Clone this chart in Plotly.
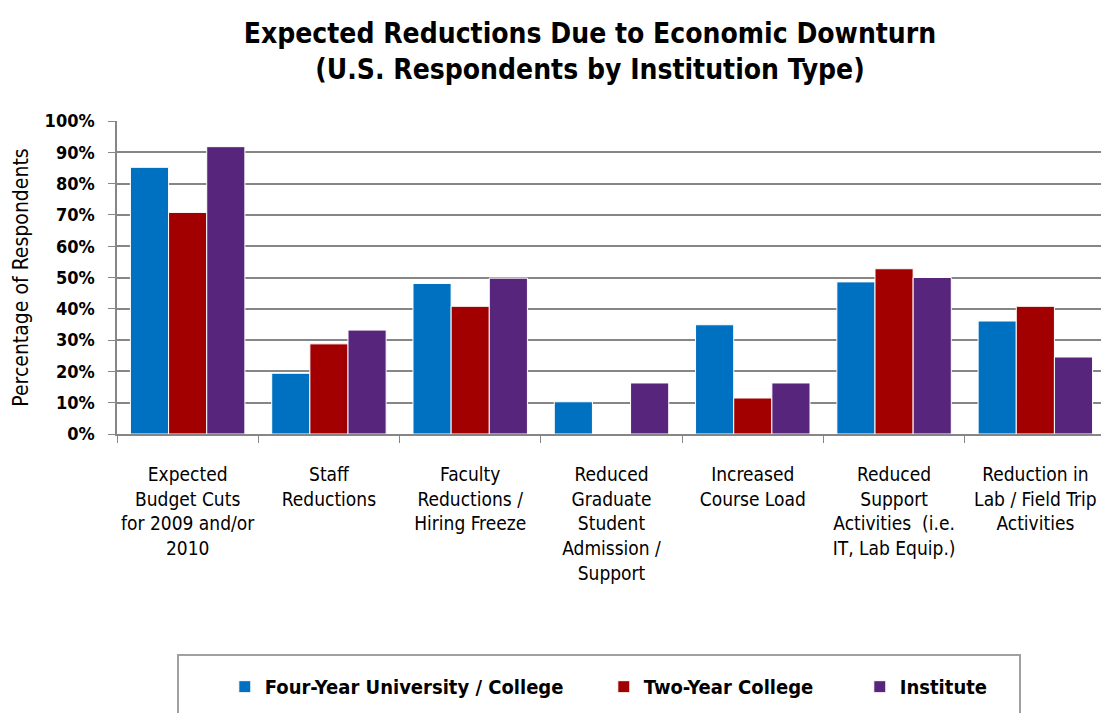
"""Reducciones esperadas por tipo de institución."""

import plotly.graph_objects as go

FUENTE = 'DejaVu Sans Condensed, Liberation Sans Narrow, Arial Narrow, sans-serif'

categorias = [
    'Expected<br>Budget Cuts<br>for 2009 and/or<br>2010',
    'Staff<br>Reductions',
    'Faculty<br>Reductions /<br>Hiring Freeze',
    'Reduced<br>Graduate<br>Student<br>Admission /<br>Support',
    'Increased<br>Course Load',
    'Reduced<br>Support<br>Activities  (i.e.<br>IT, Lab Equip.)',
    'Reduction in<br>Lab / Field Trip<br>Activities',
]

cuatro_anios = [0.852, 0.194, 0.481, 0.103, 0.349, 0.486, 0.361]
dos_anios = [0.708, 0.288, 0.408, 0.0, 0.115, 0.528, 0.408]
instituto = [0.918, 0.332, 0.498, 0.163, 0.163, 0.500, 0.246]

series = [
    ('Four-Year University / College', cuatro_anios, '#0070C0', 334),
    ('Two-Year College', dos_anios, '#A20000', 211),
    ('Institute', instituto, '#58257C', None),
]

fig = go.Figure()
for nombre, valores, color, ancho_leyenda in series:
    fig.add_trace(go.Bar(
        x=categorias,
        y=valores,
        name=nombre,
        marker=dict(color=color, line=dict(color='white', width=1)),
        legendwidth=ancho_leyenda,
    ))

# La página añade 8 px de margen al cuerpo: se compensa en el tamaño
fig.update_layout(
    width=1101,
    height=705,
    paper_bgcolor='white',
    plot_bgcolor='white',
    font=dict(family=FUENTE, color='#000000'),
    title=dict(
        text='<b>Expected Reductions Due to Economic Downturn<br>(U.S. Respondents by Institution Type)</b>',
        x=0.5286, xanchor='center', y=0.951, yanchor='middle',
        font=dict(size=28, family=FUENTE),
    ),
    barmode='group',
    bargap=0.19,
    bargroupgap=0.0,
    margin=dict(l=109, r=3, t=113, b=279),
    showlegend=True,
    legend=dict(
        orientation='h',
        x=0.109, xanchor='left',
        y=-0.745, yanchor='top',
        font=dict(size=20, family=FUENTE, weight='bold'),
        bgcolor='rgba(0,0,0,0)',
        traceorder='normal',
    ),
)

fig.update_yaxes(
    range=[0, 1.0],
    dtick=0.1,
    tickformat='.0%',
    tickfont=dict(size=18, weight='bold'),
    ticks='outside', ticklen=7, tickcolor='#868686',
    ticklabelstandoff=10,
    showgrid=True, gridcolor='#868686', gridwidth=2,
    showline=True, linecolor='#868686', linewidth=1.5,
    zeroline=False,
    title=dict(text='Percentage of Respondents', font=dict(size=21), standoff=10),
)
fig.update_xaxes(
    tickfont=dict(size=19),
    tickangle=0,
    ticks='outside', ticklen=7, tickcolor='#868686', tickson='boundaries',
    ticklabelstandoff=22,
    showline=True, linecolor='#868686', linewidth=2,
    showgrid=False,
)

# Caja de la leyenda
fig.add_shape(
    type='rect', xref='paper', yref='paper',
    x0=(170 - 109) / 989, x1=(1012 - 109) / 989,
    y0=(426 - 730) / 313, y1=(426 - 647) / 313,
    line=dict(color='#A0A0A0', width=2),
    fillcolor='rgba(0,0,0,0)',
)

fig.write_html("out.html")
